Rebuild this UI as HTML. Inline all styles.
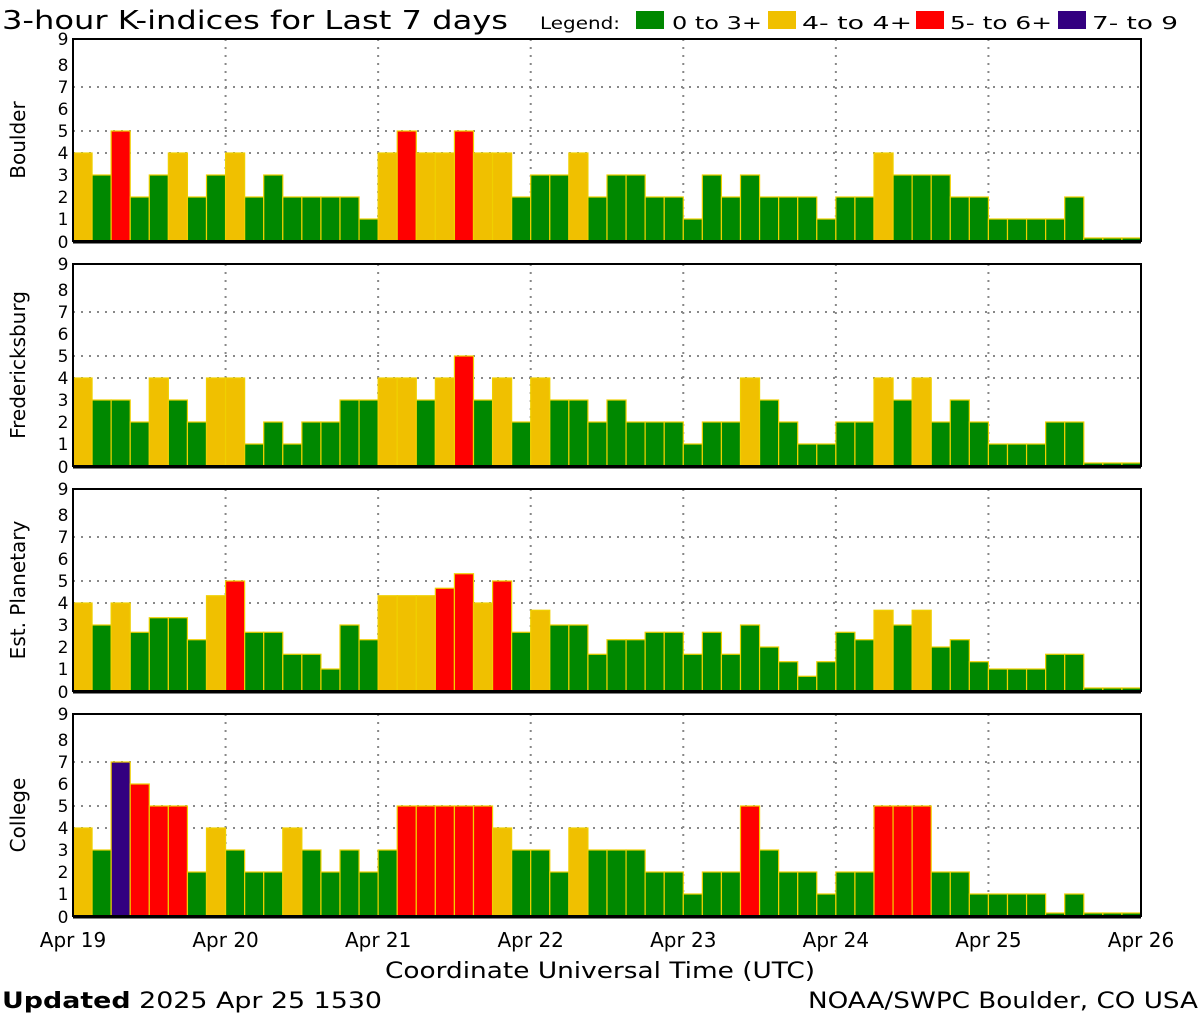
<!DOCTYPE html>
<html><head><meta charset="utf-8"><style>
body{margin:0;background:#fff;width:1200px;height:1020px;overflow:hidden}
svg{display:block}
text{font-family:"DejaVu Sans","Liberation Sans",sans-serif;fill:#000}
</style></head><body>
<svg id="s" width="1200" height="1020" xmlns="http://www.w3.org/2000/svg">
<text x="2" y="29" font-size="26" textLength="506" lengthAdjust="spacingAndGlyphs">3-hour K-indices for Last 7 days</text>
<text x="540" y="29" font-size="17" textLength="80" lengthAdjust="spacingAndGlyphs">Legend:</text>
<rect x="636" y="11" width="28" height="18" fill="#008800"/><text x="672" y="29" font-size="18" textLength="90" lengthAdjust="spacingAndGlyphs">0 to 3+</text>
<rect x="768" y="11" width="28" height="18" fill="#f0c000"/><text x="802" y="29" font-size="18" textLength="110" lengthAdjust="spacingAndGlyphs">4- to 4+</text>
<rect x="916" y="11" width="28" height="18" fill="#ff0000"/><text x="950" y="29" font-size="18" textLength="102" lengthAdjust="spacingAndGlyphs">5- to 6+</text>
<rect x="1058" y="11" width="28" height="18" fill="#330080"/><text x="1092" y="29" font-size="18" textLength="86" lengthAdjust="spacingAndGlyphs">7- to 9</text>
<text x="385" y="978" font-size="22" textLength="430" lengthAdjust="spacingAndGlyphs">Coordinate Universal Time (UTC)</text>
<text x="2" y="1008" font-size="22" font-family="Liberation Serif" textLength="380" lengthAdjust="spacingAndGlyphs"><tspan font-weight="bold">Updated</tspan> 2025 Apr 25 1530</text>
<text x="808" y="1008" font-size="22" textLength="390" lengthAdjust="spacingAndGlyphs">NOAA/SWPC Boulder, CO USA</text>
</svg>
<script>
var s=document.getElementById('s'),NS='http://www.w3.org/2000/svg';
function el(t,a,txt){var e=document.createElementNS(NS,t);for(var k in a)e.setAttribute(k,a[k]);if(txt!==undefined)e.textContent=txt;s.appendChild(e);return e;}
var L=73,R=1141,W=(R-L)/56,U=22;
var data=[
["Boulder",[4,3,5,2,3,4,2,3, 4,2,3,2,2,2,2,1, 4,5,4,4,5,4,4,2, 3,3,4,2,3,3,2,2, 1,3,2,3,2,2,2,1, 2,2,4,3,3,3,2,2, 1,1,1,1,2,0,0,0]],
["Fredericksburg",[4,3,3,2,4,3,2,4, 4,1,2,1,2,2,3,3, 4,4,3,4,5,3,4,2, 4,3,3,2,3,2,2,2, 1,2,2,4,3,2,1,1, 2,2,4,3,4,2,3,2, 1,1,1,2,2,0,0,0]],
["Est. Planetary",[4,3,4,2.67,3.33,3.33,2.33,4.33, 5,2.67,2.67,1.67,1.67,1,3,2.33, 4.33,4.33,4.33,4.67,5.33,4,5,2.67, 3.67,3,3,1.67,2.33,2.33,2.67,2.67, 1.67,2.67,1.67,3,2,1.33,0.67,1.33, 2.67,2.33,3.67,3,3.67,2,2.33,1.33, 1,1,1,1.67,1.67,0,0,0]],
["College",[4,3,7,6,5,5,2,4, 3,2,2,4,3,2,3,2, 3,5,5,5,5,5,4,3, 3,2,4,3,3,3,2,2, 1,2,2,5,3,2,2,1, 2,2,5,5,5,2,2,1, 1,1,1,0,1,0,0,0]]];
function col(v){return v<3.5?'#008800':v<4.5?'#f0c000':v<6.9?'#ff0000':'#330080';}
data.forEach(function(d,p){
 var top=39+225*p,z=241+225*p;
 [4,5,7].forEach(function(g){el('line',{x1:L,x2:R,y1:z-g*U,y2:z-g*U,stroke:'#888','stroke-width':2,'stroke-dasharray':'2 6'});});
 for(var i=1;i<7;i++){var x=L+i*W*8;el('line',{x1:x,x2:x,y1:top,y2:z,stroke:'#888','stroke-width':2,'stroke-dasharray':'2 6'});}
 d[1].forEach(function(v,i){var h=v>0?v*U:3;el('rect',{x:L+i*W,y:z-h,width:W,height:h,fill:col(v),stroke:'#f0d000','stroke-width':1.2});});
 el('rect',{x:L,y:top,width:R-L,height:z-top,fill:'none',stroke:'#000','stroke-width':2});
 el('line',{x1:L,x2:R,y1:z+1,y2:z+1,stroke:'#000','stroke-width':3});
 for(var k=0;k<=9;k++)el('text',{x:63,y:z-k*U+(k==9?2:6)-(k==0?-1:0),'font-size':17,'text-anchor':'middle'},k);
 el('text',{x:0,y:0,'font-size':20,'text-anchor':'middle',transform:'translate(25,'+(top+101)+') rotate(-90)'},d[0]);
});
for(var i=0;i<8;i++)el('text',{x:L+i*W*8,y:947,'font-size':20,'text-anchor':'middle'},'Apr '+(19+i));
</script>
</body></html>
